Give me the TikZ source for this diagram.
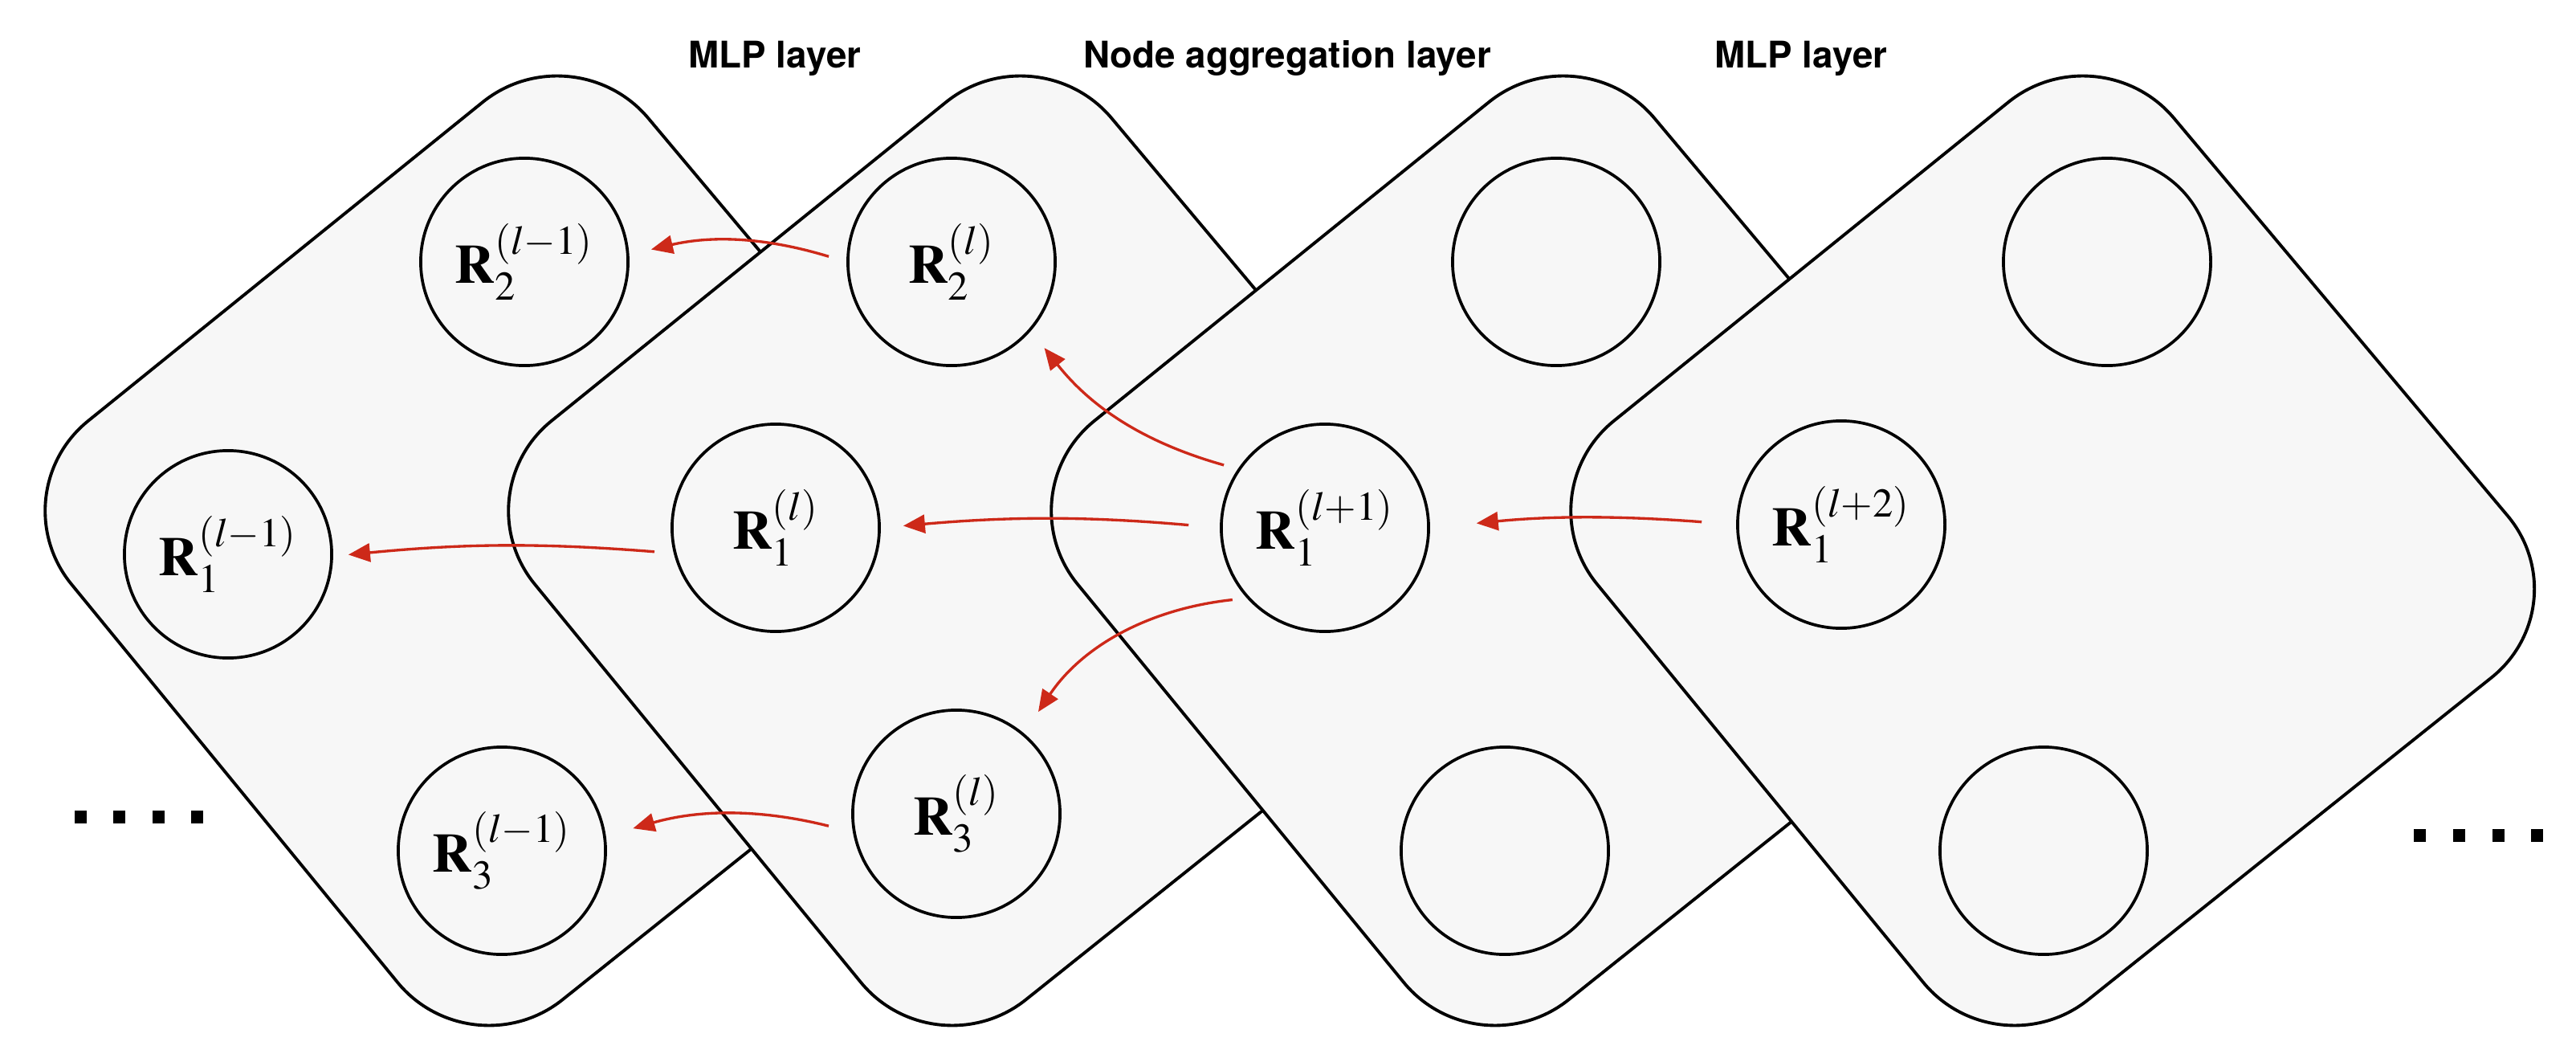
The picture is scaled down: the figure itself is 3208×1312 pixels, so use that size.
\documentclass[tikz,border=0pt]{standalone}
\usepackage{amsmath}
\usepackage[no-math]{fontspec}
\usepackage{mathptmx}
\usepackage{tikz}
\usetikzlibrary{calc}
\usetikzlibrary{arrows.meta}
\newfontfamily\layerfont{TeX Gyre Heros}
\definecolor{planegray}{RGB}{247,247,247}
\definecolor{arrowred}{RGB}{205,41,25}
\tikzset{>={Triangle[length=7.7pt,width=6.5pt]}}
\tikzset{plane/.style = {draw, fill=planegray, line width=1.1pt, rounded corners=1.45cm}}
\tikzset{vertex/.style = {shape=circle, draw, fill=planegray, line width=1.05pt, minimum size=2.58cm, inner sep=0pt, font=\fontsize{19.5}{23}\selectfont}}
\tikzset{flow/.style = {->, draw=arrowred, line width=0.95pt}}
\tikzset{layername/.style = {anchor=base, font=\layerfont\bfseries\fontsize{13}{15}\selectfont}}

\begin{document}
\begin{tikzpicture}[x=0.01cm, y=-0.01cm]
                    \useasboundingbox (0,0) rectangle (3208,1312);

                    \foreach \cx in {654,1231,1907,2554} {
                      \draw[plane] (\cx+60,36) -- (\cx+662,753) -- (\cx-67,1335) -- (\cx-657,615) -- cycle;
                    }

                    \node[vertex] (r2a) at (653,326) {$\mathbf{R}_2^{(l-1)}$};
                    \node[vertex] (r1a) at (284,690) {$\mathbf{R}_1^{(l-1)}$};
                    \node[vertex] (r3a) at (625,1059) {$\mathbf{R}_3^{(l-1)}$};
                    \node[vertex] (r2b) at (1185,326) {$\mathbf{R}_2^{(l)}$};
                    \node[vertex] (r1b) at (966,657) {$\mathbf{R}_1^{(l)}$};
                    \node[vertex] (r3b) at (1191,1013) {$\mathbf{R}_3^{(l)}$};
                    \node[vertex] (e2c) at (1938,326) {};
                    \node[vertex] (r1c) at (1650,657) {$\mathbf{R}_1^{(l+1)}$};
                    \node[vertex] (e3c) at (1874,1059) {};
                    \node[vertex] (e2d) at (2624,326) {};
                    \node[vertex] (r1d) at (2293,653) {$\mathbf{R}_1^{(l+2)}$};
                    \node[vertex] (e3d) at (2545,1059) {};

                    \draw[flow, shorten <=0.23cm, shorten >=0.28cm] (r2b.180) to[bend right=15] (r2a.4);
                    \draw[flow, shorten <=0.24cm, shorten >=0.19cm] (r1b.194) to[bend right=5] (r1a.359);
                    \draw[flow, shorten <=0.31cm, shorten >=0.35cm] (r3b.190) to[bend right=15] (r3a.8);
                    \draw[flow, shorten <=0.18cm, shorten >=0.27cm] (r1c.146) to[bend left=18] (r2b.319);
                    \draw[flow, shorten <=0.39cm, shorten >=0.28cm] (r1c.180) to[bend right=5] (r1b.0);
                    \draw[flow, shorten <=0.18cm, shorten >=0.32cm] (r1c.222) to[bend right=25] (r3b.50);
                    \draw[flow, shorten <=0.43cm, shorten >=0.58cm] (r1d.180) to[bend right=5] (r1c.0);

                    \node[layername] (mlpa) at (965,84) {MLP layer};
                    \node[layername] (agg) at (1603,84) {Node aggregation layer};
                    \node[layername] (mlpb) at (2243,84) {MLP layer};

                    \foreach \x in {100,148,197,245} {
                      \fill (\x-7.5,1009) rectangle ++(15,16);
                    }
                    \foreach \x in {3013,3062,3111,3159} {
                      \fill (\x-7.5,1032) rectangle ++(15,16);
                    }
                  \end{tikzpicture}
\end{document}
